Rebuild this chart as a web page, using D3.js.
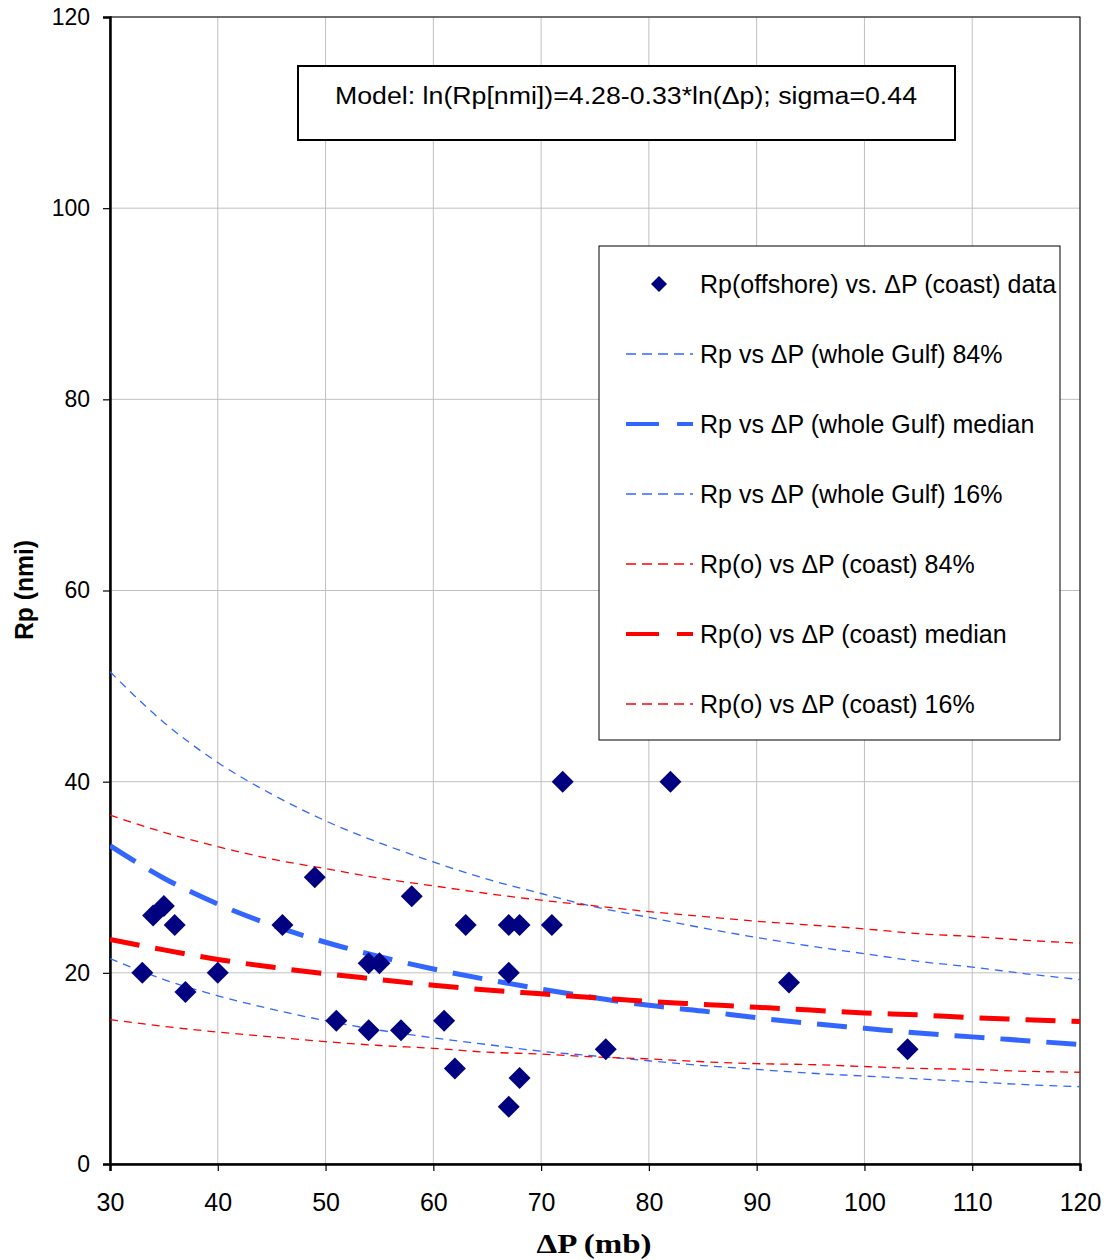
<!DOCTYPE html>
<html>
<head>
<meta charset="utf-8">
<script src="https://cdn.jsdelivr.net/npm/d3@7"></script>
<style>
  body { margin: 0; background: #fff; }
  text { font-family: "Liberation Sans", Arial, sans-serif; }
</style>
</head>
<body>
<script>
// observed points: Rp(offshore) vs dP(coast)
const dataDP = [33, 34, 35, 36, 37, 40, 46, 49, 51, 54, 54, 55, 57, 58, 61, 62, 63, 67, 67, 67, 68, 68, 71, 72, 76, 82, 93, 104];
const dataRp = [20, 26, 27, 25, 18, 20, 25, 30, 15, 14, 21, 21, 14, 28, 15, 10, 25, 20, 25, 6, 25, 9, 25, 40, 12, 40, 19, 12];

// curve abscissas (mb)
const curveDP = [30, 35, 40, 45, 50, 55, 60, 65, 70, 75, 80, 85, 90, 95, 100, 105, 110, 115, 120];
// whole Gulf
const gulf84 = [51.5, 46.2, 42.0, 38.7, 35.9, 33.6, 31.6, 29.8, 28.3, 26.9, 25.8, 24.7, 23.7, 22.8, 22.0, 21.2, 20.6, 19.9, 19.3];
const gulfMed = [33.3, 29.9, 27.2, 25.0, 23.2, 21.7, 20.4, 19.3, 18.3, 17.4, 16.6, 16.0, 15.3, 14.7, 14.2, 13.7, 13.3, 12.9, 12.5];
const gulf16 = [21.5, 19.3, 17.6, 16.2, 15.0, 14.0, 13.2, 12.5, 11.8, 11.3, 10.8, 10.3, 9.9, 9.5, 9.2, 8.9, 8.6, 8.3, 8.1];
// coast
const coast84 = [36.5, 34.7, 33.2, 31.9, 30.9, 29.9, 29.1, 28.3, 27.6, 27.0, 26.4, 25.9, 25.4, 25.0, 24.6, 24.1, 23.8, 23.4, 23.1];
const coastMed = [23.5, 22.4, 21.4, 20.6, 19.9, 19.3, 18.7, 18.2, 17.8, 17.4, 17.0, 16.7, 16.4, 16.1, 15.8, 15.6, 15.3, 15.1, 14.9];
const coast16 = [15.1, 14.4, 13.8, 13.3, 12.8, 12.4, 12.1, 11.7, 11.5, 11.2, 11.0, 10.7, 10.5, 10.4, 10.2, 10.0, 9.9, 9.7, 9.6];

const xTicks = [30, 40, 50, 60, 70, 80, 90, 100, 110, 120];
const yTicks = [0, 20, 40, 60, 80, 100, 120];

const legendLabels = [
  "Rp(offshore) vs. \u0394P (coast) data",
  "Rp vs \u0394P (whole Gulf) 84%",
  "Rp vs \u0394P (whole Gulf) median",
  "Rp vs \u0394P (whole Gulf) 16%",
  "Rp(o) vs \u0394P (coast) 84%",
  "Rp(o) vs \u0394P (coast) median",
  "Rp(o) vs \u0394P (coast) 16%"
];

const width = 1109, height = 1260;
const mLeft = 110, mRight = 1080, mTop = 17, mBottom = 1164;
const blue = "#3366ff", red = "#ff0000", navy = "#000080";

const svg = d3.select("body").append("svg")
  .attr("width", width)
  .attr("height", height);

const x = d3.scaleLinear().domain([30, 120]).range([mLeft, mRight]);
const y = d3.scaleLinear().domain([0, 120]).range([mBottom, mTop]);

// grid
svg.append("g").selectAll("line").data(xTicks.slice(1))
  .join("line")
  .attr("x1", d => x(d)).attr("x2", d => x(d))
  .attr("y1", mTop).attr("y2", mBottom)
  .attr("stroke", "#c0c0c0").attr("stroke-width", 1);
svg.append("g").selectAll("line").data(yTicks.slice(1))
  .join("line")
  .attr("x1", mLeft).attr("x2", mRight)
  .attr("y1", d => y(d)).attr("y2", d => y(d))
  .attr("stroke", "#c0c0c0").attr("stroke-width", 1);

// frame
svg.append("rect")
  .attr("x", mLeft).attr("y", mTop)
  .attr("width", mRight - mLeft).attr("height", mBottom - mTop)
  .attr("fill", "none").attr("stroke", "#000").attr("stroke-width", 1);

// axes
const xAxis = svg.append("g")
  .attr("transform", `translate(0,${mBottom})`)
  .call(d3.axisBottom(x).tickValues(xTicks).tickSize(7).tickPadding(32));
const yAxis = svg.append("g")
  .attr("transform", `translate(${mLeft},0)`)
  .call(d3.axisLeft(y).tickValues(yTicks).tickSize(7).tickPadding(13));
[xAxis, yAxis].forEach(a => {
  a.select(".domain").attr("stroke", "#000").attr("stroke-width", 2.5);
  a.selectAll(".tick line").attr("stroke", "#000").attr("stroke-width", 1.2);
});
xAxis.selectAll("text")
  .attr("font-size", 25).attr("fill", "#000")
  .attr("dy", "0.32em");
yAxis.selectAll("text")
  .attr("font-size", 23).attr("fill", "#000");

// curves
svg.append("clipPath").attr("id", "plotclip")
  .append("rect").attr("x", mLeft).attr("y", mTop)
  .attr("width", mRight - mLeft).attr("height", mBottom - mTop);

const line = d3.line()
  .x((d, i) => x(curveDP[i]))
  .y(d => y(d))
  .curve(d3.curveMonotoneX);

const thin = { w: 1.3, dash: "8,6" };
const thick = { w: 5, dash: "30,16" };
const curves = [
  { v: gulf84, c: blue, s: thin },
  { v: gulf16, c: blue, s: thin },
  { v: coast84, c: red, s: thin },
  { v: coast16, c: red, s: thin },
  { v: gulfMed, c: blue, s: thick },
  { v: coastMed, c: red, s: thick }
];
const cg = svg.append("g").attr("clip-path", "url(#plotclip)");
curves.forEach(k => {
  cg.append("path")
    .attr("d", line(k.v))
    .attr("fill", "none")
    .attr("stroke", k.c)
    .attr("stroke-width", k.s.w)
    .attr("stroke-dasharray", k.s.dash);
});

// diamonds
const diamond = r => `M0,${-r}L${r},0L0,${r}L${-r},0Z`;
svg.append("g").selectAll("path").data(dataDP)
  .join("path")
  .attr("transform", (d, i) => `translate(${x(d)},${y(dataRp[i])})`)
  .attr("d", diamond(11))
  .attr("fill", navy);

// model box
svg.append("rect")
  .attr("x", 298).attr("y", 66).attr("width", 657).attr("height", 74)
  .attr("fill", "#fff").attr("stroke", "#000").attr("stroke-width", 2);
svg.append("text")
  .attr("x", 335).attr("y", 104)
  .attr("font-size", 23)
  .attr("textLength", 582)
  .attr("lengthAdjust", "spacingAndGlyphs")
  .text("Model: ln(Rp[nmi])=4.28-0.33*ln(\u0394p); sigma=0.44");

// legend
const lg = svg.append("g");
lg.append("rect")
  .attr("x", 599).attr("y", 246).attr("width", 461).attr("height", 494)
  .attr("fill", "#fff").attr("stroke", "#000").attr("stroke-width", 1);
const rowY = d3.scalePoint().domain(d3.range(legendLabels.length)).range([284, 704]);
const legStyle = [
  null,
  { c: blue, s: thin }, { c: blue, s: thick }, { c: blue, s: thin },
  { c: red, s: thin }, { c: red, s: thick }, { c: red, s: thin }
];
legendLabels.forEach((lab, i) => {
  const yy = rowY(i);
  if (i === 0) {
    lg.append("path").attr("transform", `translate(659,${yy})`)
      .attr("d", diamond(8)).attr("fill", navy);
  } else {
    const st = legStyle[i];
    lg.append("line")
      .attr("x1", 626).attr("x2", 693).attr("y1", yy).attr("y2", yy)
      .attr("stroke", st.c)
      .attr("stroke-width", st.s === thick ? 4 : 1.3)
      .attr("stroke-dasharray", st.s === thick ? "33,18" : "10,6");
  }
  lg.append("text")
    .attr("x", 700).attr("y", yy + 9)
    .attr("font-size", 25)
    .text(lab);
});

// axis titles
svg.append("text")
  .attr("x", 594).attr("y", 1253)
  .attr("text-anchor", "middle")
  .style("font-family", "'Liberation Serif', 'Times New Roman', serif")
  .attr("font-weight", "bold")
  .attr("font-size", 28)
  .attr("textLength", 115)
  .attr("lengthAdjust", "spacingAndGlyphs")
  .text("\u0394P (mb)");
svg.append("text")
  .attr("transform", "translate(33,590) rotate(-90)")
  .attr("text-anchor", "middle")
  .attr("font-weight", "bold")
  .attr("font-size", 26)
  .attr("textLength", 100)
  .attr("lengthAdjust", "spacingAndGlyphs")
  .text("Rp (nmi)");
</script>
</body>
</html>
